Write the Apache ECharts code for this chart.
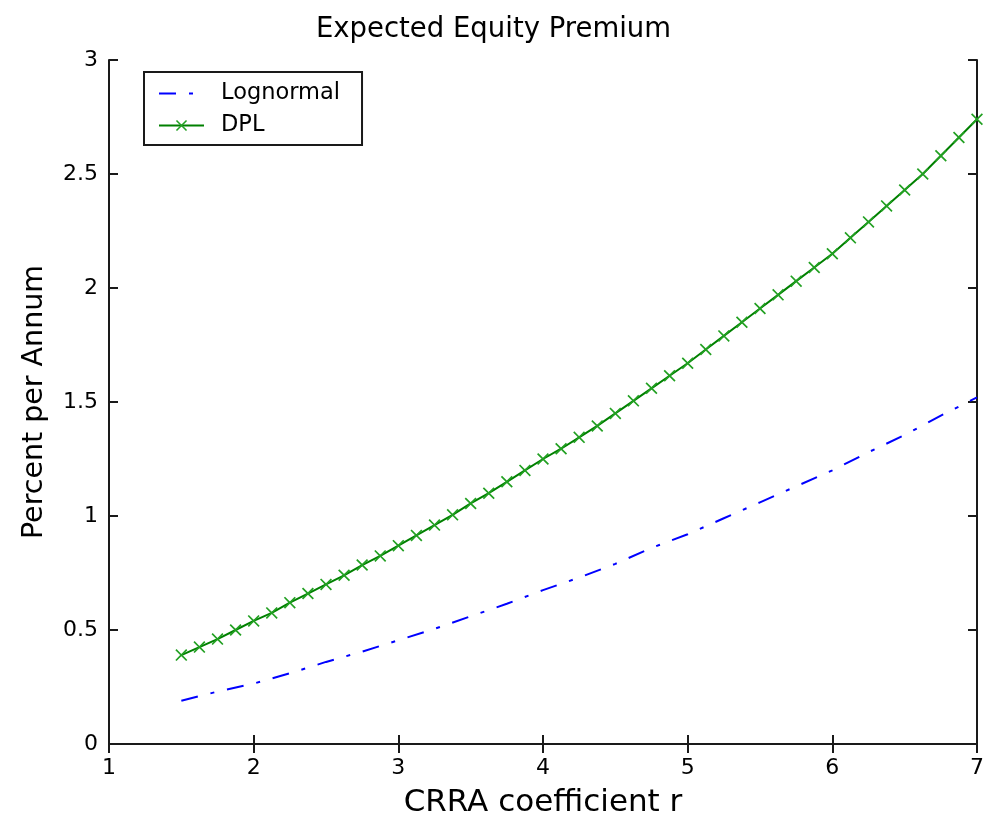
<!DOCTYPE html>
<html>
<head>
<meta charset="utf-8">
<script src="https://cdn.jsdelivr.net/npm/echarts@6/dist/echarts.min.js"></script>
<style>
html,body{margin:0;padding:0;background:#fff;}
#chart{width:987px;height:826px;}
</style>
</head>
<body>
<div id="chart"></div>
<script>
// ---- data ----
const titleText = 'Expected Equity Premium';
const xAxisTitle = 'CRRA coefficient r';
const yAxisTitle = 'Percent per Annum';
const seriesNames = ['Lognormal', 'DPL'];

const dplR = [1.5,1.625,1.75,1.875,2.0,2.125,2.25,2.375,2.5,2.625,2.75,2.875,3.0,3.125,3.25,3.375,3.5,3.625,3.75,3.875,4.0,4.125,4.25,4.375,4.5,4.625,4.75,4.875,5.0,5.125,5.25,5.375,5.5,5.625,5.75,5.875,6.0,6.125,6.25,6.375,6.5,6.625,6.75,6.875,7.0];
const dplValues = [0.39,0.425,0.46,0.50,0.54,0.575,0.62,0.66,0.70,0.74,0.785,0.825,0.87,0.915,0.96,1.005,1.055,1.10,1.15,1.20,1.25,1.295,1.345,1.395,1.45,1.505,1.56,1.615,1.67,1.73,1.79,1.85,1.91,1.97,2.03,2.09,2.15,2.22,2.29,2.36,2.43,2.50,2.58,2.66,2.74];

const lognormalR = [1.5,1.75,2.0,2.25,2.5,2.75,3.0,3.25,3.5,3.75,4.0,4.25,4.5,4.75,5.0,5.25,5.5,5.75,6.0,6.25,6.5,6.75,7.0];
const lognormalValues = [0.19,0.23,0.265,0.31,0.36,0.405,0.455,0.505,0.56,0.615,0.675,0.73,0.79,0.86,0.92,0.99,1.06,1.13,1.20,1.28,1.355,1.44,1.52];

const xTicks = {min: 1, max: 7, step: 1};
const yTicks = {min: 0, max: 3, step: 0.5};

// ---- chart ----
const FONT = 'DejaVu Sans, Liberation Sans, sans-serif';
const AXC = '#1a1a1a';
const chart = echarts.init(document.getElementById('chart'), null, {renderer: 'canvas'});
const xMark = 'path://M0,1 L1,0 L5,4 L9,0 L10,1 L6,5 L10,9 L9,10 L5,6 L1,10 L0,9 L4,5 Z';
function axisLine() { return {show: true, lineStyle: {color: AXC, width: 2}}; }
function tickIn() { return {show: true, inside: true, length: 9, lineStyle: {color: AXC, width: 2}}; }

const option = {
  animation: false,
  backgroundColor: '#fff',
  title: {
    text: titleText, left: 'center', top: 11,
    textStyle: {fontFamily: FONT, fontSize: 27.5, fontWeight: 'normal', color: '#000'}
  },
  legend: {
    orient: 'vertical', left: 144, top: 72,
    data: [
      {name: seriesNames[0], itemStyle: {opacity: 0}},
      {name: seriesNames[1]}
    ],
    backgroundColor: '#fff', borderColor: AXC, borderWidth: 2, borderRadius: 0,
    padding: [10, 22, 8, 14],
    itemWidth: 45, itemHeight: 14, itemGap: 9,
    textStyle: {fontFamily: FONT, fontSize: 22.5, color: '#000', lineHeight: 20, padding: [0, 0, 0, 12]},
    selectedMode: false
  },
  grid: {left: 109, right: 10, top: 60, bottom: 82, containLabel: false},
  xAxis: [
    {
      type: 'value', position: 'bottom', min: xTicks.min, max: xTicks.max, interval: xTicks.step,
      name: xAxisTitle, nameLocation: 'middle', nameGap: 43,
      nameTextStyle: {fontFamily: FONT, fontSize: 31, color: '#000'},
      axisLine: axisLine(), axisTick: tickIn(), splitLine: {show: false},
      axisLabel: {fontFamily: FONT, fontSize: 22, color: '#000', margin: 13}
    },
    {
      type: 'value', position: 'top', min: xTicks.min, max: xTicks.max, interval: xTicks.step,
      axisLine: axisLine(), axisTick: tickIn(), splitLine: {show: false}, axisLabel: {show: false}
    }
  ],
  yAxis: [
    {
      type: 'value', position: 'left', min: yTicks.min, max: yTicks.max, interval: yTicks.step,
      name: yAxisTitle, nameLocation: 'middle', nameGap: 60, nameRotate: 90,
      nameTextStyle: {fontFamily: FONT, fontSize: 28.5, color: '#000'},
      axisLine: axisLine(), axisTick: tickIn(), splitLine: {show: false},
      axisLabel: {fontFamily: FONT, fontSize: 22, color: '#000', margin: 11}
    },
    {
      type: 'value', position: 'right', min: yTicks.min, max: yTicks.max, interval: yTicks.step,
      axisLine: axisLine(), axisTick: tickIn(), splitLine: {show: false}, axisLabel: {show: false}
    }
  ],
  series: [
    {
      name: seriesNames[0], type: 'line', xAxisIndex: 0, yAxisIndex: 0,
      data: lognormalR.map((r, i) => [r, lognormalValues[i]]),
      symbol: 'circle', symbolSize: 0, showSymbol: false, smooth: false,
      lineStyle: {color: '#0000ff', width: 2, type: [17, 13, 4, 13]},
      itemStyle: {color: '#0000ff'},
      emphasis: {disabled: true}
    },
    {
      name: seriesNames[1], type: 'line', xAxisIndex: 0, yAxisIndex: 0,
      data: dplR.map((r, i) => [r, dplValues[i]]),
      symbol: xMark, symbolSize: 12, showAllSymbol: true, smooth: false,
      lineStyle: {color: '#008000', width: 2, type: 'solid'},
      itemStyle: {color: '#22a022'},
      emphasis: {disabled: true}
    }
  ]
};
chart.setOption(option);
</script>
</body>
</html>
